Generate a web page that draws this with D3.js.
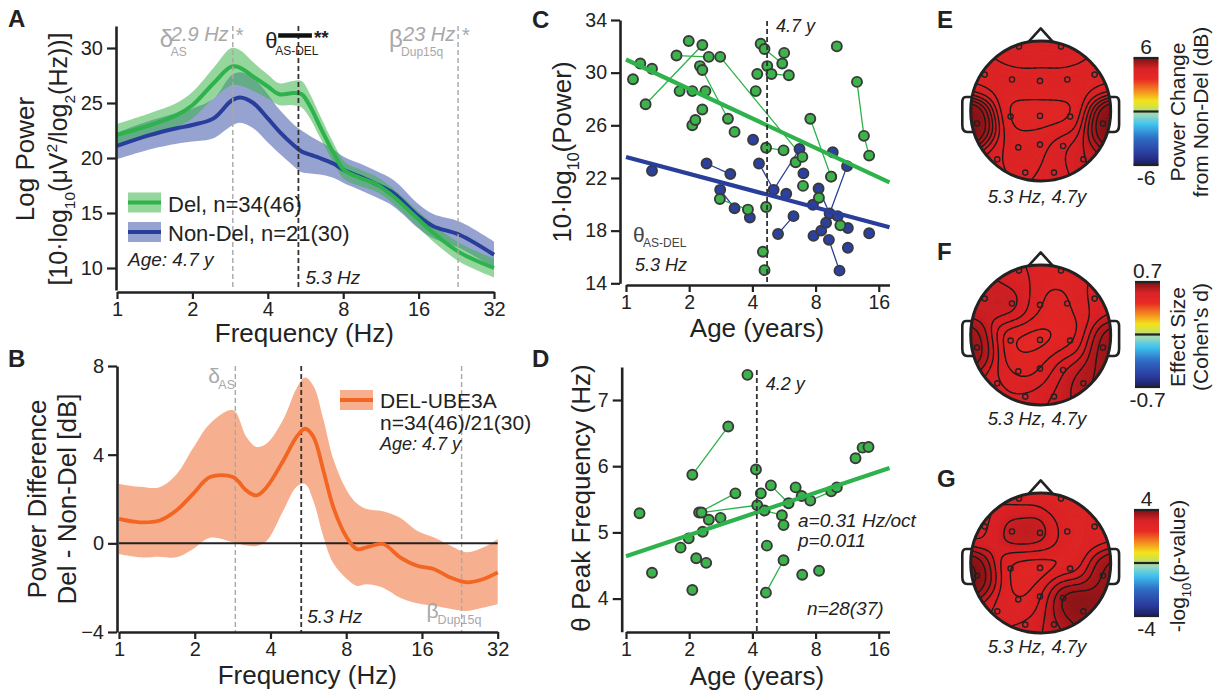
<!DOCTYPE html>
<html>
<head>
<meta charset="utf-8">
<script src="https://cdn.jsdelivr.net/npm/d3@7"></script>
<style>
body { margin: 0; background: #fff; }
svg { display: block; font-family: "Liberation Sans", Arial, Helvetica, sans-serif; }
</style>
</head>
<body>
<svg id="fig" width="1228" height="696"></svg>
<script>
// ---------- data ----------
// A: spectra (Del vs Non-Del)
const freqA = [1, 1.36, 1.73, 2, 2.43, 2.86, 3.1, 3.5, 4, 4.45, 5.05, 5.46, 5.9, 6.45, 7.3, 8.07, 9.33, 10.9, 12.7, 16, 18.3, 23.4, 32];
const delMean = [22.1, 23.0, 23.9, 24.8, 26.8, 28.3, 28.2, 27.4, 26.5, 25.8, 25.9, 25.8, 24.7, 22.9, 20.5, 18.9, 18.2, 17.6, 16.5, 14.4, 13.2, 11.4, 10.0];
const delSe = [1.0, 1.1, 1.1, 1.2, 1.4, 1.7, 1.6, 1.3, 1.1, 1.0, 1.1, 1.2, 1.1, 1.0, 0.9, 0.8, 0.75, 0.7, 0.7, 0.75, 0.8, 0.85, 0.85];
const nonMean = [21.1, 22.1, 22.7, 23.0, 23.6, 25.2, 25.5, 25.0, 23.6, 22.4, 21.2, 20.6, 20.3, 20.0, 19.5, 18.9, 18.3, 17.6, 16.8, 14.7, 13.8, 13.0, 11.2];
const nonSe = [1.2, 1.3, 1.4, 1.5, 1.8, 2.3, 2.3, 2.3, 2.2, 2.0, 1.9, 1.9, 1.7, 1.5, 1.3, 1.2, 1.2, 1.2, 1.2, 1.1, 1.1, 1.2, 1.2];
const freqTicks = [1, 2, 4, 8, 16, 32];
const powTicks = [10, 15, 20, 25, 30];
const deltaAS = 2.9, thetaPeak = 5.3, betaDup = 23;
const thetaBand = [4.4, 6.0];

// B: power difference
const freqB = [1, 1.21, 1.45, 1.69, 1.97, 2.30, 2.84, 3.21, 3.52, 3.86, 4.50, 5.08, 5.49, 5.93, 6.49, 7.11, 8.03, 8.82, 9.65, 11.2, 13.1, 15.3, 17.8, 20.7, 24.1, 28.1, 32];
const diffMean = [1.10, 0.95, 1.03, 1.48, 2.23, 2.99, 2.99, 2.38, 2.16, 2.53, 3.74, 4.8, 5.17, 4.8, 3.29, 1.63, 0.27, -0.26, -0.18, -0.03, -0.63, -1.01, -1.16, -1.54, -1.76, -1.61, -1.31];
const diffHi = [2.68, 2.55, 2.53, 3.1, 4.3, 5.4, 6.0, 4.8, 4.35, 4.5, 5.6, 7.0, 7.48, 7.1, 5.6, 3.8, 2.4, 1.8, 1.55, 1.45, 1.15, 0.57, 0.27, -0.1, -0.4, -0.18, 0.2];
const diffLo = [-0.48, -0.63, -0.6, -0.63, -0.25, 0.25, 0.05, -0.1, -0.12, 0.1, 1.48, 2.55, 2.68, 1.9, 0.3, -0.9, -1.6, -1.92, -1.85, -2.0, -2.45, -2.7, -2.82, -2.95, -3.05, -2.9, -2.75];
const diffTicks = [-4, 0, 4, 8];

// C: theta power vs age
const cDelAge = [1.08, 1.17, 1.33, 1.24, 1.74, 1.80, 1.99, 2.07, 2.07, 2.14, 2.25, 2.31, 2.31, 2.31, 2.39, 2.48, 2.81, 3.06, 3.29, 2.80, 3.81, 4.15, 4.22, 4.38, 4.57, 4.71, 4.93, 4.65, 5.63, 5.55, 5.67, 5.97, 4.49, 4.57, 4.65, 6.43, 6.92, 6.97, 7.55, 8.30, 9.48, 10.1, 10.5, 12.6, 13.6, 14.4];
const cDelPow = [29.5, 30.7, 30.3, 27.6, 31.3, 28.6, 32.4, 28.6, 26.0, 26.4, 30.5, 30.2, 27.2, 32.1, 28.6, 31.2, 31.2, 26.5, 25.5, 20.4, 19.6, 28.6, 29.9, 32.2, 31.8, 30.5, 29.9, 24.3, 24.1, 30.7, 31.5, 29.8, 16.4, 15.0, 19.8, 23.2, 23.6, 21.4, 26.5, 20.5, 22.1, 32.0, 18.4, 29.3, 25.2, 23.7];
const cDelSubj = [1, 2, 3, 4, 5, 6, 7, 8, 9, 9, 11, 12, 13, 4, 15, 5, 17, 12, 19, 20, 20, 22, 23, 24, 25, 26, 27, 28, 28, 25, 31, 27, 33, 34, 35, 36, 17, 38, 39, 40, 39, 42, 43, 44, 44, 44];
const cNonAge = [1.33, 2.42, 3.14, 2.81, 3.29, 3.89, 4.03, 4.30, 5.05, 5.80, 5.30, 6.28, 6.71, 7.00, 7.77, 7.82, 8.27, 8.51, 8.98, 9.33, 9.26, 9.66, 9.5, 10.4, 10.2, 11.3, 11.4, 11.4, 14.4];
const cNonPow = [22.55, 23.1, 22.3, 21.1, 19.7, 19.0, 24.9, 23.1, 21.1, 20.8, 17.75, 19.1, 24.2, 22.35, 19.97, 17.6, 21.2, 18.0, 18.6, 19.3, 17.3, 23.95, 22.1, 14.96, 19.1, 22.9, 18.2, 16.7, 17.8];
const cNonSubj = [1, 2, 2, 4, 4, 6, 7, 8, 8, 10, 11, 11, 8, 14, 15, 16, 17, 18, 19, 17, 21, 22, 23, 21, 25, 17, 27, 28, 29];
const cDelFit = [31.0, -2.24];   // intercept at 1 y, slope per octave
const cNonFit = [23.6, -1.28];
const ageTicks = [1, 2, 4, 8, 16];
const cPowTicks = [14, 18, 22, 26, 30, 34];
const cAgeMark = 4.7;

// D: theta peak frequency vs age
const dAge = [1.16, 1.33, 1.82, 1.99, 2.07, 3.07, 2.07, 2.16, 2.23, 3.32, 2.29, 4.22, 2.41, 2.48, 2.82, 3.79, 4.16, 4.39, 4.57, 5.53, 4.69, 4.64, 5.63, 4.9, 5.95, 5.63, 6.43, 6.87, 6.91, 7.55, 8.31, 9.5, 10.1, 12.4, 13.4, 14.3, 2.32];
const dPeak = [5.29, 4.39, 4.77, 4.91, 5.87, 6.60, 4.13, 4.61, 5.30, 5.59, 5.30, 5.41, 4.54, 5.19, 5.22, 7.38, 5.95, 5.59, 5.33, 5.26, 4.80, 4.09, 4.58, 5.71, 5.44, 5.11, 5.68, 5.55, 4.36, 5.48, 4.42, 5.62, 5.68, 6.12, 6.28, 6.29, 5.01];
const dSubj = [1, 2, 3, 4, 5, 5, 7, 8, 9, 9, 11, 11, 13, 14, 15, 16, 17, 18, 19, 19, 21, 22, 22, 24, 24, 26, 27, 27, 29, 30, 31, 30, 33, 34, 34, 36, 37];
const dFit = [4.64, 0.32];
const peakTicks = [4, 5, 6, 7];
const dAgeMark = 4.2;

// E-G: topographies (10-20 electrodes, head-normalised position)
const elecNames = ["Fp1", "Fp2", "F7", "F3", "Fz", "F4", "F8", "T3", "C3", "Cz", "C4", "T4", "T5", "P3", "Pz", "P4", "T6", "O1", "O2"];
const elecX = [-0.31, 0.29, -0.80, -0.41, -0.01, 0.38, 0.77, -0.91, -0.43, -0.01, 0.42, 0.89, -0.62, -0.32, -0.01, 0.32, 0.61, -0.22, 0.19];
const elecY = [-0.92, -0.92, -0.52, -0.45, -0.43, -0.45, -0.52, 0.18, 0.08, 0.07, 0.08, 0.18, 0.69, 0.52, 0.48, 0.50, 0.69, 0.88, 0.88];
const topoPower = [4.75, 4.75, 4.5, 4.45, 4.5, 4.45, 4.5, 6.0, 4.15, 4.1, 4.15, 6.0, 4.6, 4.4, 4.45, 4.8, 5.0, 4.55, 4.6];
const topoCohen = [0.54, 0.52, 0.58, 0.60, 0.50, 0.50, 0.56, 0.66, 0.47, 0.46, 0.49, 0.66, 0.56, 0.48, 0.50, 0.58, 0.64, 0.56, 0.58];
const topoLogP = [3.0, 2.9, 3.0, 3.5, 3.5, 2.9, 3.0, 4.0, 2.8, 2.7, 2.85, 3.8, 3.1, 2.8, 2.9, 4.2, 3.8, 3.2, 3.4];

// ---------- helpers ----------
const svg = d3.select("#fig");
svg.append("rect").attr("width", 1228).attr("height", 696).attr("fill", "#fff");

const GREEN = "#2eb24b", BLUE = "#283e9a", ORANGE = "#f26522";
const GRAY = "#a8a8a8", INK = "#222";

function rich(text, parts, size) {
  let shift = 0;
  parts.forEach(([t, k]) => {
    const target = k === "sub" ? size * 0.3 : k === "sup" ? -size * 0.4 : 0;
    text.append("tspan").attr("dy", target - shift)
      .attr("font-size", k ? size * 0.62 : size).text(t);
    shift = target;
  });
}

function label(x, y, str, opts = {}) {
  const t = svg.append("text").attr("x", x).attr("y", y)
    .attr("font-size", opts.size || 20)
    .attr("fill", opts.fill || INK)
    .attr("text-anchor", opts.anchor || "start");
  if (opts.italic) t.attr("font-style", "italic");
  if (opts.bold) t.attr("font-weight", "bold");
  if (opts.rotate) t.attr("transform", `rotate(-90,${x},${y})`);
  if (Array.isArray(str)) rich(t, str, opts.size || 20); else t.text(str);
  return t;
}

function styleAxis(g, size) {
  g.attr("font-size", size).attr("font-family", null);
  g.select(".domain").attr("stroke", INK).attr("stroke-width", 2.6);
  g.selectAll(".tick line").attr("stroke", INK).attr("stroke-width", 2.2);
  g.selectAll(".tick text").attr("fill", INK);
}

function xAxis(scale, y, ticks, size) {
  svg.append("g").attr("transform", `translate(0,${y})`)
    .call(d3.axisBottom(scale).tickValues(ticks).tickFormat(d3.format("d")).tickSize(7).tickSizeOuter(0).tickPadding(3))
    .call(g => styleAxis(g, size));
}

function yAxis(scale, x, ticks, size) {
  svg.append("g").attr("transform", `translate(${x},0)`)
    .call(d3.axisLeft(scale).tickValues(ticks).tickFormat(d3.format("d")).tickSize(9).tickSizeOuter(0).tickPadding(4))
    .call(g => styleAxis(g, size));
}

function vdash(x, y0, y1, color, w, dash) {
  svg.append("line").attr("x1", x).attr("x2", x).attr("y1", y0).attr("y2", y1)
    .attr("stroke", color).attr("stroke-width", w).attr("stroke-dasharray", dash);
}

// ---------- panel A ----------
const xA = d3.scaleLog().base(2).domain([1, 32]).range([117, 494]);
const yA = d3.scaleLinear().domain([8, 32]).range([290, 26]);
const curve = d3.curveCatmullRom.alpha(0.5);

function spectrum(mean, se, bandColor) {
  const rows = freqA.map((f, i) => ({ f, m: mean[i], s: se[i] }));
  svg.append("path").datum(rows)
    .attr("d", d3.area().x(d => xA(d.f)).y0(d => yA(d.m - d.s)).y1(d => yA(d.m + d.s)).curve(curve))
    .attr("fill", bandColor).attr("fill-opacity", 0.55);
  return rows;
}
const nonRows = spectrum(nonMean, nonSe, "#3f57ab");
const delRows = spectrum(delMean, delSe, "#3cb44b");
[[nonRows, BLUE], [delRows, GREEN]].forEach(([rows, c]) => {
  svg.append("path").datum(rows)
    .attr("d", d3.line().x(d => xA(d.f)).y(d => yA(d.m)).curve(curve))
    .attr("fill", "none").attr("stroke", c).attr("stroke-width", 4);
});

vdash(xA(deltaAS), 26, 290, GRAY, 1.4, "5,3");
vdash(xA(betaDup), 26, 290, GRAY, 1.4, "5,3");
vdash(xA(thetaPeak), 26, 290, "#333", 1.8, "5,3");

xAxis(xA, 292, freqTicks, 20);
yAxis(yA, 116, powTicks, 20);

// band annotations
const dx = xA(deltaAS), bx = xA(betaDup);
label(dx - 73, 47, "δ", { size: 24, fill: GRAY });
label(dx - 62, 56, "AS", { size: 12, fill: GRAY });
label(dx - 62, 41, "2.9 Hz", { size: 20, fill: GRAY, italic: true });
label(dx + 3, 42, "*", { size: 20, fill: GRAY });
label(bx - 69, 47, "β", { size: 24, fill: GRAY });
label(bx - 57, 56, "Dup15q", { size: 12, fill: GRAY });
label(bx - 55, 41, "23 Hz", { size: 20, fill: GRAY, italic: true });
label(bx + 4, 42, "*", { size: 20, fill: GRAY });
label(xA(thetaBand[0]) - 13, 48, "θ", { size: 22 });
label(xA(thetaBand[0]) - 3, 55, "AS-DEL", { size: 12 });
svg.append("line").attr("x1", xA(thetaBand[0])).attr("x2", xA(thetaBand[1]))
  .attr("y1", 35.5).attr("y2", 35.5).attr("stroke", "#111").attr("stroke-width", 4.5);
label(xA(thetaBand[1]) + 2, 44, "**", { size: 19, bold: true });
label(xA(thetaPeak) + 7, 284, "5.3 Hz", { size: 19, italic: true });

// legend A
[[GREEN, "#3cb44b", "Del, n=34(46)", 202.5], [BLUE, "#3f57ab", "Non-Del, n=21(30)", 232]].forEach(([c, bc, t, y]) => {
  svg.append("rect").attr("x", 128).attr("y", y - 10).attr("width", 33).attr("height", 20)
    .attr("fill", bc).attr("fill-opacity", 0.55);
  svg.append("line").attr("x1", 128).attr("x2", 161).attr("y1", y).attr("y2", y)
    .attr("stroke", c).attr("stroke-width", 4);
  label(168, y + 9, t, { size: 22 });
});
label(128, 266, "Age: 4.7 y", { size: 19, italic: true });

label(xA(5.6), 342, "Frequency (Hz)", { size: 26, anchor: "middle" });
label(34, 159, "Log Power", { size: 26, anchor: "middle", rotate: true });
label(67, 159, [["[10·log", ""], ["10", "sub"], ["(μV", ""], ["2", "sup"], ["/log", ""], ["2", "sub"], ["(Hz))]", ""]], { size: 25, anchor: "middle", rotate: true });
label(8, 27, "A", { size: 24, bold: true });

// ---------- panel B ----------
const xB = d3.scaleLog().base(2).domain([1, 32]).range([119, 497.7]);
const yB = d3.scaleLinear().domain([-4, 8]).range([632, 366]);
const rowsB = freqB.map((f, i) => ({ f, m: diffMean[i], lo: diffLo[i], hi: diffHi[i] }));
svg.append("path").datum(rowsB)
  .attr("d", d3.area().x(d => xB(d.f)).y0(d => yB(d.lo)).y1(d => yB(d.hi)).curve(curve))
  .attr("fill", "#f7b08f");
vdash(xB(deltaAS), 366, 632, GRAY, 1.4, "5,3");
vdash(xB(betaDup), 366, 632, GRAY, 1.4, "5,3");
vdash(xB(thetaPeak), 366, 632, "#333", 1.8, "5,3");
svg.append("line").attr("x1", xB(1)).attr("x2", xB(32)).attr("y1", yB(0)).attr("y2", yB(0))
  .attr("stroke", INK).attr("stroke-width", 2);
svg.append("path").datum(rowsB)
  .attr("d", d3.line().x(d => xB(d.f)).y(d => yB(d.m)).curve(curve))
  .attr("fill", "none").attr("stroke", ORANGE).attr("stroke-width", 3.8);
xAxis(xB, 632, freqTicks, 20);
yAxis(yB, 117, diffTicks, 20);

label(xB(deltaAS) - 27, 383, "δ", { size: 21, fill: GRAY });
label(xB(deltaAS) - 17, 389, "AS", { size: 12.5, fill: GRAY });
label(xB(betaDup) - 35, 618, "β", { size: 21, fill: GRAY });
label(xB(betaDup) - 24, 624, "Dup15q", { size: 12.5, fill: GRAY });
label(xB(thetaPeak) + 6, 623, "5.3 Hz", { size: 19, italic: true });
svg.append("rect").attr("x", 340).attr("y", 390).attr("width", 33).attr("height", 20).attr("fill", "#f7b08f");
svg.append("line").attr("x1", 340).attr("x2", 373).attr("y1", 400).attr("y2", 400)
  .attr("stroke", ORANGE).attr("stroke-width", 3.8);
label(380, 408, "DEL-UBE3A", { size: 21 });
label(380, 430, "n=34(46)/21(30)", { size: 21 });
label(380, 450, "Age: 4.7 y", { size: 18, italic: true });

label(xB(5.6), 684, "Frequency (Hz)", { size: 26, anchor: "middle" });
label(46, 499, "Power Difference", { size: 26, anchor: "middle", rotate: true });
label(76, 499, "Del - Non-Del [dB]", { size: 26, anchor: "middle", rotate: true });
label(8, 367, "B", { size: 24, bold: true });

// ---------- panel C ----------
const xC = d3.scaleLog().base(2).domain([1, 18]).range([626, 889.5]);
const yC = d3.scaleLinear().domain([14, 34]).range([283.3, 20]);

function connect(xs, ys, ids, xScale, yScale, color) {
  const groups = d3.groups(xs.map((a, i) => ({ a, v: ys[i], id: ids[i] })), d => d.id)
    .filter(g => g[1].length > 1);
  groups.forEach(([, pts]) => {
    pts.sort((p, q) => p.a - q.a);
    svg.append("path").datum(pts)
      .attr("d", d3.line().x(d => xScale(d.a)).y(d => yScale(d.v)))
      .attr("fill", "none").attr("stroke", color).attr("stroke-width", 1.3);
  });
}
function dots(xs, ys, xScale, yScale, color) {
  svg.append("g").selectAll("circle").data(xs.map((a, i) => [a, ys[i]])).join("circle")
    .attr("cx", d => xScale(d[0])).attr("cy", d => yScale(d[1])).attr("r", 5)
    .attr("fill", color).attr("stroke", "#3a3a3a").attr("stroke-width", 1.9);
}
function fit(coef, xScale, yScale, color) {
  const dom = xScale.domain();
  svg.append("line")
    .attr("x1", xScale(dom[0])).attr("y1", yScale(coef[0]))
    .attr("x2", xScale(dom[1])).attr("y2", yScale(coef[0] + coef[1] * Math.log2(dom[1])))
    .attr("stroke", color).attr("stroke-width", 4.2);
}

connect(cNonAge, cNonPow, cNonSubj, xC, yC, BLUE);
connect(cDelAge, cDelPow, cDelSubj, xC, yC, GREEN);
dots(cNonAge, cNonPow, xC, yC, "#2c40a0");
dots(cDelAge, cDelPow, xC, yC, "#3cb44b");
fit(cDelFit, xC, yC, GREEN);
fit(cNonFit, xC, yC, BLUE);
vdash(xC(cAgeMark), 21, 285, "#333", 1.8, "5,3");
xAxis(xC, 285, ageTicks, 19.5);
yAxis(yC, 620, cPowTicks, 19.5);
label(xC(cAgeMark) + 9, 32, "4.7 y", { size: 18, italic: true });
label(633, 242, "θ", { size: 21, fill: "#444" });
label(643, 247, "AS-DEL", { size: 12, fill: "#444" });
label(635, 271, "5.3 Hz", { size: 18, italic: true });
label(757, 337, "Age (years)", { size: 26, anchor: "middle" });
label(571, 152, [["10·log", ""], ["10", "sub"], ["(Power)", ""]], { size: 26, anchor: "middle", rotate: true });
label(532, 28, "C", { size: 24, bold: true });

// ---------- panel D ----------
const xD = d3.scaleLog().base(2).domain([1, 18]).range([626, 889.5]);
const yD = d3.scaleLinear().domain([3.5, 7.5]).range([631.7, 366.9]);
connect(dAge, dPeak, dSubj, xD, yD, GREEN);
dots(dAge, dPeak, xD, yD, "#3cb44b");
fit(dFit, xD, yD, GREEN);
vdash(xD(dAgeMark), 370, 632, "#333", 1.8, "5,3");
xAxis(xD, 632, ageTicks, 19.5);
yAxis(yD, 621.7, peakTicks, 19.5);
label(xD(dAgeMark) + 9, 390, "4.2 y", { size: 18, italic: true });
label(798, 527, "a=0.31 Hz/oct", { size: 19, italic: true });
label(798, 547, "p=0.011", { size: 19, italic: true });
label(807, 615, "n=28(37)", { size: 19, italic: true });
label(757, 685, "Age (years)", { size: 26, anchor: "middle" });
label(590, 498, "θ Peak Frequency (Hz)", { size: 26, anchor: "middle", rotate: true });
label(532, 367, "D", { size: 24, bold: true });

// ---------- panels E-G: topographies ----------
const cmap = d3.scaleLinear()
  .domain([0, 0.1, 0.25, 0.38, 0.47, 0.55, 0.6, 0.68, 0.8, 0.9, 1])
  .range(["#1b1f5e", "#2a3a9c", "#2f6cc4", "#3ec3ee", "#9ad8c0", "#d9e23a", "#f3e21c", "#f5961f", "#e82a24", "#d82226", "#7a1214"])
  .clamp(true);

const defs = svg.append("defs");
const grad = defs.append("linearGradient").attr("id", "jet")
  .attr("x1", 0).attr("y1", 1).attr("x2", 0).attr("y2", 0);
d3.range(0, 1.001, 0.02).forEach(t => grad.append("stop").attr("offset", t).attr("stop-color", cmap(t)));

function topo(id, cx, cy, r, vals, dom, lines) {
  const n = 100, ext = 1.1, sig = 0.22;
  const grid = new Array(n * n);
  for (let j = 0; j < n; j++) {
    for (let i = 0; i < n; i++) {
      const gx = (i / (n - 1)) * 2 * ext - ext, gy = (j / (n - 1)) * 2 * ext - ext;
      let num = 0, den = 0;
      vals.forEach((v, k) => {
        const d2 = (gx - elecX[k]) ** 2 + (gy - elecY[k]) ** 2;
        const w = Math.exp(-d2 / (2 * sig * sig)) + 1e-12;
        num += w * v; den += w;
      });
      grid[j * n + i] = num / den;
    }
  }
  const proj = d3.geoIdentity().scale(2 * ext * r / (n - 1)).translate([cx - ext * r, cy - ext * r]);
  const path = d3.geoPath(proj);
  const norm = d3.scaleLinear().domain(dom).range([0, 1]);

  // ears and nose under the scalp
  const hx = v => cx + v * r, hy = v => cy + v * r;
  [-1, 1].forEach(s => {
    svg.append("path")
      .attr("d", `M${hx(s * 0.985)},${hy(-0.2)} L${hx(s * 1.07)},${hy(-0.2)} Q${hx(s * 1.12)},${hy(-0.2)} ${hx(s * 1.12)},${hy(-0.12)}
                  L${hx(s * 1.12)},${hy(0.2)} Q${hx(s * 1.12)},${hy(0.3)} ${hx(s * 1.05)},${hy(0.3)} L${hx(s * 0.96)},${hy(0.3)}`)
      .attr("fill", "#fff").attr("stroke", INK).attr("stroke-width", 2.6).attr("stroke-linejoin", "round");
  });
  svg.append("path")
    .attr("d", `M${hx(-0.2)},${hy(-0.96)} L${hx(0)},${hy(-1.18)} L${hx(0.2)},${hy(-0.96)}`)
    .attr("fill", "#fff").attr("stroke", INK).attr("stroke-width", 2.6).attr("stroke-linejoin", "round");

  defs.append("clipPath").attr("id", id).append("circle").attr("cx", cx).attr("cy", cy).attr("r", r);
  const g = svg.append("g").attr("clip-path", `url(#${id})`);
  const lo = d3.min(grid), hi = d3.max(grid);
  const fills = d3.range(lo, hi, (hi - lo) / 60);
  fills[0] = lo - 1;
  g.selectAll("path.band").data(d3.contours().size([n, n]).thresholds(fills)(grid)).join("path")
    .attr("d", path).attr("fill", d => cmap(norm(Math.max(d.value, lo))))
    .attr("stroke", d => cmap(norm(Math.max(d.value, lo)))).attr("stroke-width", 0.6);
  g.selectAll("path.iso").data(d3.contours().size([n, n]).thresholds(lines)(grid)).join("path")
    .attr("d", path).attr("fill", "none").attr("stroke", "#1a1a1a").attr("stroke-width", 1.4);
  svg.append("circle").attr("cx", cx).attr("cy", cy).attr("r", r)
    .attr("fill", "none").attr("stroke", INK).attr("stroke-width", 3);
  svg.append("g").selectAll("circle").data(elecNames).join("circle")
    .attr("cx", (d, k) => hx(elecX[k])).attr("cy", (d, k) => hy(elecY[k])).attr("r", 2.6)
    .attr("fill", "none").attr("stroke", "#222").attr("stroke-width", 1.4);
}

function colorbar(x, y0, y1, top, bottom, labels, ly) {
  const w = 25;
  svg.append("rect").attr("x", x).attr("y", y0).attr("width", w).attr("height", y1 - y0).attr("fill", "url(#jet)");
  [y0, (y0 + y1) / 2, y1].forEach(y => svg.append("line").attr("x1", x).attr("x2", x + w)
    .attr("y1", y).attr("y2", y).attr("stroke", INK).attr("stroke-width", 2.2));
  label(x + w / 2, y0 - 4, top, { size: 21, anchor: "middle" });
  label(x + w / 2, y1 + 20, bottom, { size: 21, anchor: "middle" });
  labels.forEach(([t, lx]) => label(lx, ly, t, { size: 21, anchor: "middle", rotate: true }));
}

topo("clipE", 1040.7, 111, 70, topoPower, [-6, 6], [4.3, 4.55, 4.75, 4.95, 5.15, 5.35, 5.55]);
colorbar(1133.5, 58, 165, "6", "-6", [["Power Change", 1185], ["from Non-Del (dB)", 1208]], 112);
label(1037, 203, "5.3 Hz, 4.7y", { size: 18.5, italic: true, anchor: "middle" });
label(937, 28, "E", { size: 24, bold: true });

topo("clipF", 1040.7, 335, 70, topoCohen, [-0.7, 0.7], [0.48, 0.51, 0.54, 0.57, 0.60, 0.63]);
colorbar(1135, 282, 387, "0.7", "-0.7", [["Effect Size", 1185], ["(Cohen's d)", 1208]], 337);
label(1037, 425, "5.3 Hz, 4.7y", { size: 18.5, italic: true, anchor: "middle" });
label(937, 260, "F", { size: 24, bold: true });

topo("clipG", 1040.7, 563, 70, topoLogP, [-4, 4], [2.9, 3.1, 3.3, 3.5, 3.7, 3.9, 4.1]);
colorbar(1134, 510, 616, "4", "-4", [[[["-log", ""], ["10", "sub"], ["(p-value)", ""]], 1185]], 566);
label(1037, 653, "5.3 Hz, 4.7y", { size: 18.5, italic: true, anchor: "middle" });
label(937, 487, "G", { size: 24, bold: true });
</script>
</body>
</html>
